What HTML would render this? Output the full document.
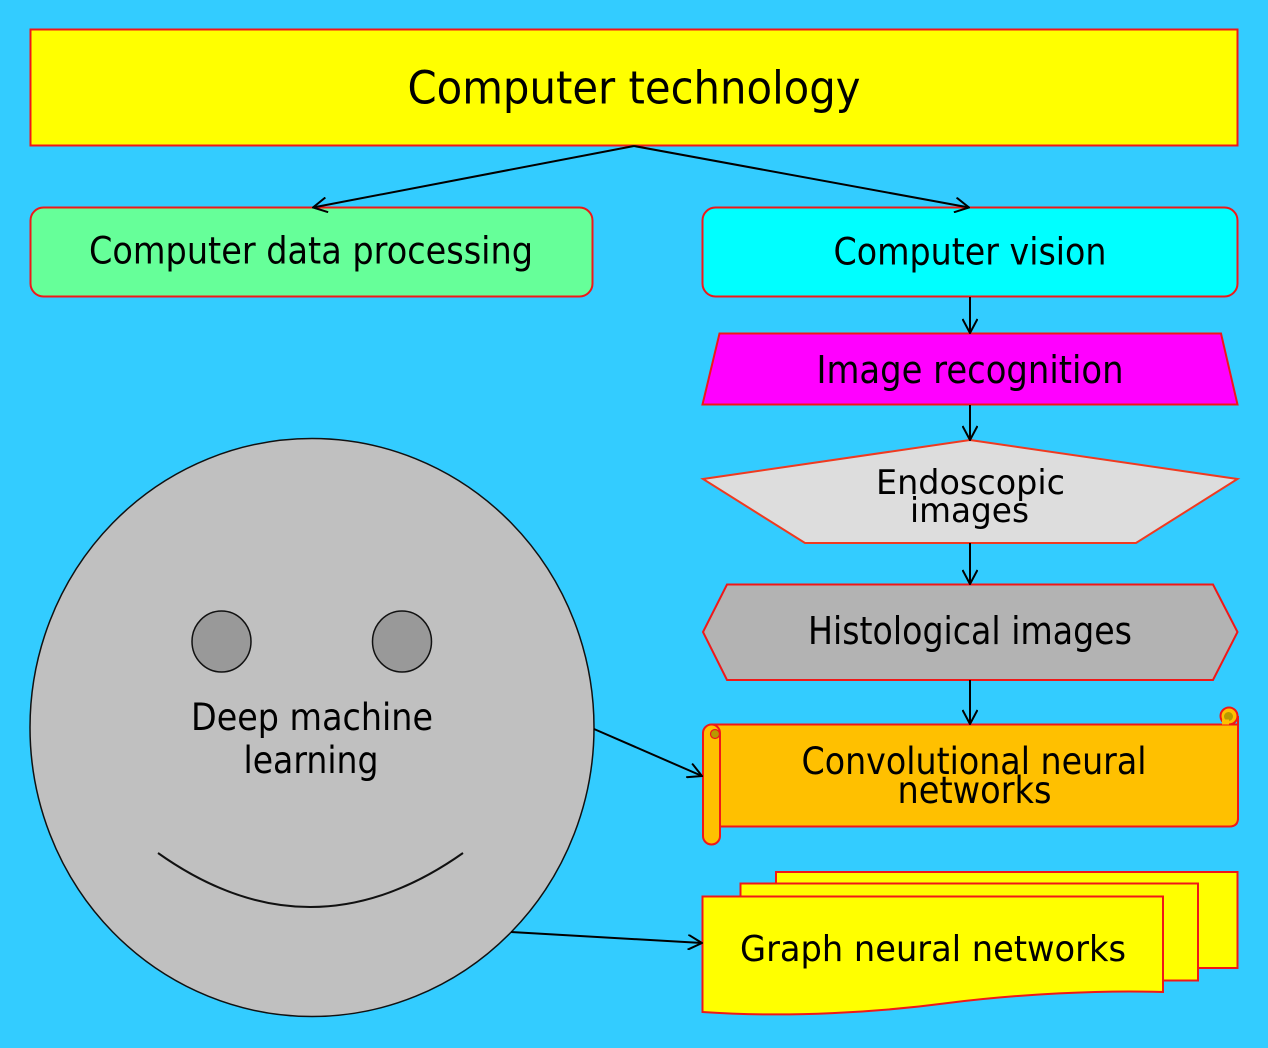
<!DOCTYPE html>
<html>
<head>
<meta charset="utf-8">
<style>
  html,body{margin:0;padding:0;background:#33CCFF;}
  svg{display:block;}
  text{font-family:"DejaVu Sans","Liberation Sans",sans-serif;fill:#000;}
</style>
</head>
<body>
<svg width="1268" height="1048" viewBox="0 0 1268 1048" xmlns="http://www.w3.org/2000/svg">
  <defs>
    <marker id="ah" markerWidth="16" markerHeight="16" refX="15" refY="8" orient="auto" markerUnits="userSpaceOnUse">
      <path d="M1,0.5 L15,8 L1,15.5" fill="none" stroke="#000" stroke-width="2"/>
    </marker>
  </defs>
  <rect x="0" y="0" width="1268" height="1048" fill="#33CCFF"/>

  <!-- Top box -->
  <rect x="30.5" y="29.5" width="1207" height="116" fill="#FFFF00" stroke="#F01818" stroke-width="2"/>
  <text x="634" y="103.5" font-size="45" text-anchor="middle" textLength="453" lengthAdjust="spacingAndGlyphs">Computer technology</text>

  <!-- Green box -->
  <rect x="30.5" y="207.5" width="562" height="89" rx="13" ry="13" fill="#66FF99" stroke="#F01818" stroke-width="2"/>
  <text x="311" y="263.5" font-size="37" text-anchor="middle" textLength="444" lengthAdjust="spacingAndGlyphs">Computer data processing</text>

  <!-- Cyan box -->
  <rect x="702.5" y="207.5" width="535" height="89" rx="13" ry="13" fill="#00FFFF" stroke="#F01818" stroke-width="2"/>
  <text x="970" y="264.5" font-size="37" text-anchor="middle" textLength="273" lengthAdjust="spacingAndGlyphs">Computer vision</text>

  <!-- Image recognition trapezoid -->
  <polygon points="719.5,333.5 1221,333.5 1237.5,404.5 702.5,404.5" fill="#FF00FF" stroke="#F01818" stroke-width="2"/>
  <text x="970" y="383" font-size="38" text-anchor="middle" textLength="307" lengthAdjust="spacingAndGlyphs">Image recognition</text>

  <!-- Endoscopic pentagon -->
  <polygon points="970,440 1237.5,479 1136,543 805,543 703,479" fill="#DDDDDD" stroke="#F03A20" stroke-width="2"/>
  <text x="970.5" y="494" font-size="34" text-anchor="middle" textLength="189" lengthAdjust="spacingAndGlyphs">Endoscopic</text>
  <text x="969.5" y="522" font-size="34" text-anchor="middle" textLength="119" lengthAdjust="spacingAndGlyphs">images</text>

  <!-- Histological hexagon -->
  <polygon points="727,584.5 1213,584.5 1237.5,632 1213,680 727,680 703,632" fill="#B3B3B3" stroke="#F01818" stroke-width="2"/>
  <text x="970" y="644" font-size="38" text-anchor="middle" textLength="324" lengthAdjust="spacingAndGlyphs">Histological images</text>

  <!-- Scroll (Convolutional neural networks) -->
  <path d="M712,724.5 H1238 V818 Q1238,826.5 1229.5,826.5 H712 Z" fill="#FFC000" stroke="#F01818" stroke-width="2"/>
  <!-- right curl -->
  <circle cx="1229" cy="716" r="8.5" fill="#FFC000" stroke="#F01818" stroke-width="2"/>
  <circle cx="1228.5" cy="716.5" r="4.5" fill="#B89A00"/>
  <rect x="1222" y="719.5" width="7" height="5" fill="#FFC000"/>
  <line x1="1238" y1="716" x2="1238" y2="820" stroke="#F01818" stroke-width="2"/>
  <!-- left roll -->
  <rect x="703" y="724.5" width="17" height="120" rx="8.5" ry="8.5" fill="#FFC000" stroke="#F01818" stroke-width="2"/>
  <circle cx="715" cy="734" r="4.5" fill="#B89A00" stroke="#F01818" stroke-width="1.2"/>
  <text x="974" y="774" font-size="37" text-anchor="middle" textLength="345" lengthAdjust="spacingAndGlyphs">Convolutional neural</text>
  <text x="974.5" y="803" font-size="37" text-anchor="middle" textLength="154" lengthAdjust="spacingAndGlyphs">networks</text>

  <!-- Multi-document (Graph neural networks) -->
  <rect x="776" y="872" width="461.5" height="96" fill="#FFFF00" stroke="#F01818" stroke-width="2"/>
  <rect x="740.5" y="883.5" width="457.5" height="97" fill="#FFFF00" stroke="#F01818" stroke-width="2"/>
  <path d="M702.5,896.5 H1163 V992 C1100,990 1020,994 948,1003 C880,1012 790,1018 702.5,1012 Z" fill="#FFFF00" stroke="#F01818" stroke-width="2"/>
  <text x="933" y="961" font-size="36" text-anchor="middle" textLength="386" lengthAdjust="spacingAndGlyphs">Graph neural networks</text>

  <!-- Smiley circle -->
  <ellipse cx="312" cy="727.5" rx="282" ry="289" fill="#C0C0C0" stroke="#111" stroke-width="1.5"/>
  <ellipse cx="221.5" cy="641.5" rx="29.5" ry="30.5" fill="#999999" stroke="#111" stroke-width="1.5"/>
  <ellipse cx="402" cy="641.5" rx="29.5" ry="30.5" fill="#999999" stroke="#111" stroke-width="1.5"/>
  <path d="M158,853 Q310,961 463,853" fill="none" stroke="#111" stroke-width="2"/>
  <text x="312" y="730" font-size="37" text-anchor="middle" textLength="242" lengthAdjust="spacingAndGlyphs">Deep machine</text>
  <text x="311" y="773" font-size="37" text-anchor="middle" textLength="135" lengthAdjust="spacingAndGlyphs">learning</text>

  <!-- Connectors -->
  <g stroke="#000" stroke-width="2" fill="none" marker-end="url(#ah)">
    <line x1="634" y1="146" x2="313" y2="207.5"/>
    <line x1="634" y1="146" x2="969" y2="207.5"/>
    <line x1="970" y1="297" x2="970" y2="333"/>
    <line x1="970" y1="405" x2="970" y2="440"/>
    <line x1="970" y1="543" x2="970" y2="584"/>
    <line x1="970" y1="680" x2="970" y2="724"/>
    <line x1="594" y1="729" x2="702" y2="776"/>
    <line x1="511" y1="932" x2="702" y2="943"/>
  </g>
</svg>
</body>
</html>
